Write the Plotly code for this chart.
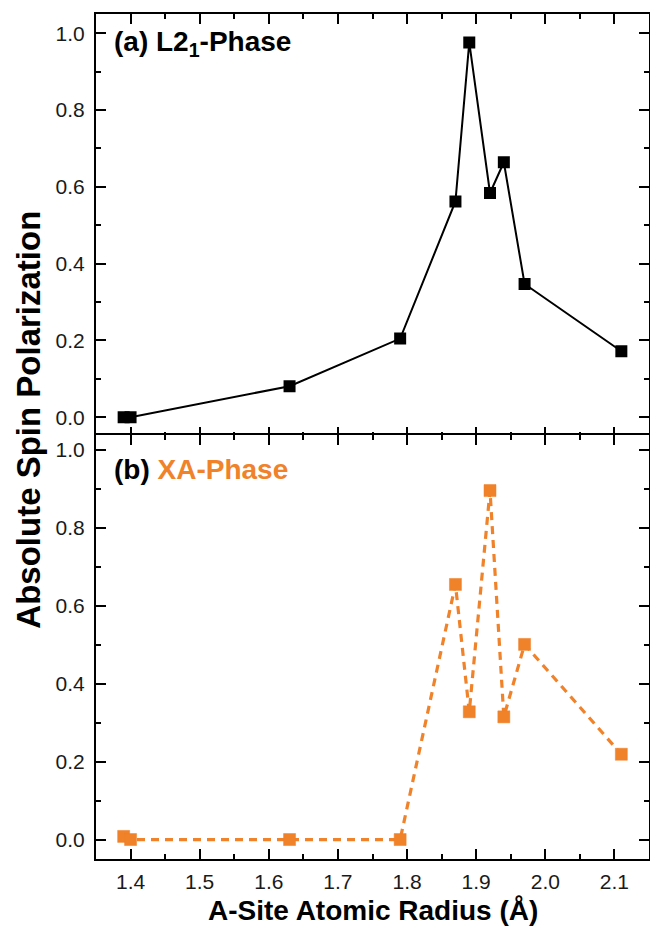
import plotly.graph_objects as go

# A-site atomic radius (Å) for each compound
radius = [1.39, 1.40, 1.63, 1.79, 1.87, 1.89, 1.92, 1.94, 1.97, 2.11]

# Absolute spin polarization for each phase
pol_l21 = [0.0, 0.0, 0.081, 0.205, 0.562, 0.976, 0.584, 0.664, 0.347, 0.172]
pol_xa = [0.008, 0.0, 0.0, 0.0, 0.655, 0.328, 0.896, 0.315, 0.501, 0.219]

# tick values (major labelled, minor unlabelled)
x_major = [1.4, 1.5, 1.6, 1.7, 1.8, 1.9, 2.0, 2.1]
x_minor = [1.45, 1.55, 1.65, 1.75, 1.85, 1.95, 2.05]
y_major = [0.0, 0.2, 0.4, 0.6, 0.8, 1.0]
y_minor = [0.1, 0.3, 0.5, 0.7, 0.9]

X_RANGE = [1.35, 2.15]
Y_RANGE_TOP = [-0.05, 1.05]
Y_RANGE_BOT = [-0.05, 1.04]

ORANGE = "#F0822A"
FONT = "Liberation Sans, Arial, sans-serif"

W, H = 650, 939
M_L, M_R, M_T, M_B = 96, 1, 14, 80
LINE_W = 2
# lift the lower panel by one line width so both frame lines coincide
SPLIT = 0.5 + LINE_W / (H - M_T - M_B)

fig = go.Figure()

fig.add_trace(go.Scatter(
    x=radius, y=pol_l21, xaxis="x", yaxis="y",
    mode="lines+markers",
    line=dict(color="black", width=2),
    marker=dict(symbol="square", size=12, color="black"),
    showlegend=False,
))
fig.add_trace(go.Scatter(
    x=radius, y=pol_xa, xaxis="x2", yaxis="y2",
    mode="lines+markers",
    line=dict(color=ORANGE, width=3.2, dash="8px,6px"),
    marker=dict(symbol="square", size=12, color=ORANGE,
                line=dict(color="rgba(240,130,42,0.5)", width=1)),
    showlegend=False,
))

tickfont = dict(family=FONT, size=21, color="#1a1a1a")
frame = dict(showline=True, linecolor="black", linewidth=LINE_W,
             mirror="allticks", ticks="inside", ticklen=10, tickwidth=2,
             tickcolor="black", showgrid=False, zeroline=False,
             automargin=False, tickfont=tickfont, tickmode="array",
             tickformat=".1f")


def minor(vals):
    return dict(tickmode="array", tickvals=vals, ticks="inside",
                ticklen=5, tickwidth=2, tickcolor="black", showgrid=False)


fig.update_layout(
    width=W, height=H,
    margin=dict(l=M_L, r=M_R, t=M_T, b=M_B),
    plot_bgcolor="white", paper_bgcolor="white",
    font=dict(family=FONT, color="black"),
    xaxis=dict(frame, anchor="y", range=X_RANGE, tickvals=x_major,
               minor=minor(x_minor), showticklabels=False),
    yaxis=dict(frame, domain=[0.5, 1.0], anchor="x", range=Y_RANGE_TOP,
               tickvals=y_major, minor=minor(y_minor), ticklabelstandoff=5),
    xaxis2=dict(frame, anchor="y2", range=X_RANGE, tickvals=x_major,
                minor=minor(x_minor), ticklabelstandoff=3),
    yaxis2=dict(frame, domain=[0.0, SPLIT], anchor="x2", range=Y_RANGE_BOT,
                tickvals=y_major, minor=minor(y_minor), ticklabelstandoff=5),
    annotations=[
        dict(text="<b>(a) L2<sub>1</sub>-Phase</b>", xref="paper", yref="paper",
             x=0.029, y=0.965, xanchor="left", yanchor="middle", showarrow=False,
             font=dict(family=FONT, size=28, color="black")),
        dict(text="<b>(b) <span style='color:" + ORANGE + "'>XA-Phase</span></b>",
             xref="paper", yref="paper",
             x=0.029, y=0.4615, xanchor="left", yanchor="middle", showarrow=False,
             font=dict(family=FONT, size=28, color="black")),
        dict(text="<b>A-Site Atomic Radius (Å)</b>", xref="paper", yref="paper",
             x=0.5, y=-0.061, xanchor="center", yanchor="middle", showarrow=False,
             font=dict(family=FONT, size=28, color="black")),
        dict(text="<b>Absolute Spin Polarization</b>", xref="paper", yref="paper",
             x=-0.121, y=0.52, xanchor="center", yanchor="middle", showarrow=False,
             textangle=-90, font=dict(family=FONT, size=33, color="black")),
    ],
)

fig.write_html("out.html")
